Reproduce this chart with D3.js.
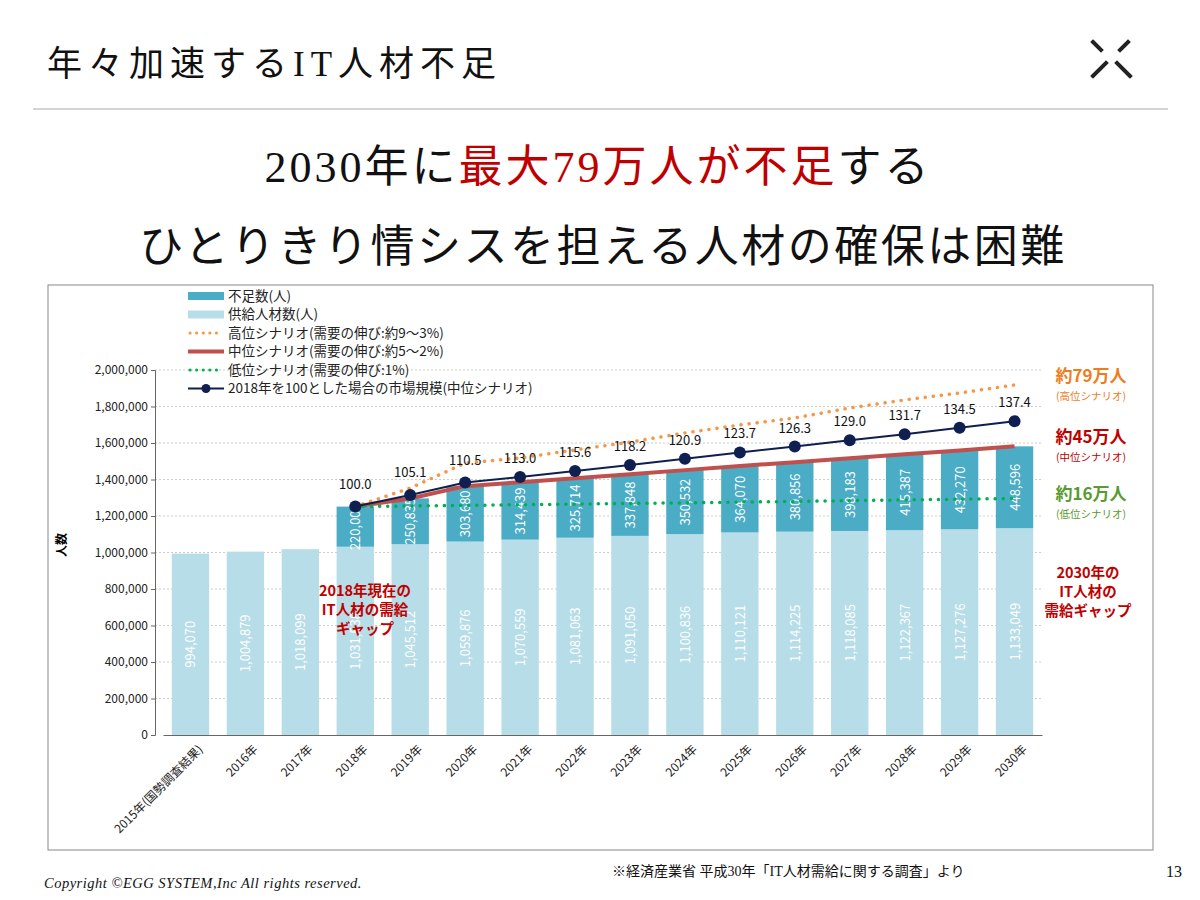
<!DOCTYPE html>
<html><head><meta charset="utf-8">
<script src="https://cdn.jsdelivr.net/npm/d3@7"></script>
<style>
body{margin:0;background:#fff;}
text{font-family:"Noto Sans CJK JP","Noto Sans",sans-serif;}
.serif{font-family:"Liberation Serif","DejaVu Serif","Noto Sans CJK JP",serif;}
</style></head>
<body><svg id="c" width="1200" height="900"></svg>
<script>
// DATA
const years = ["2015年(国勢調査結果)","2016年","2017年","2018年","2019年","2020年","2021年","2022年","2023年","2024年","2025年","2026年","2027年","2028年","2029年","2030年"];
const supply = [994070,1004879,1018099,1031538,1045512,1059876,1070559,1081063,1091050,1100836,1110121,1114225,1118085,1122367,1127276,1133049];
const shortage = [null,null,null,220000,250835,303680,314439,325714,337848,350532,364070,380856,398183,415387,432270,448596];
const highDemand = [null,null,null,1251538,1353000,1490000,1518000,1562000,1605000,1655000,1699000,1737000,1792000,1836000,1874000,1918000];
const lowDemand = [null,null,null,1251538,1255000,1258000,1262000,1265000,1269000,1272000,1276000,1280000,1284000,1288000,1292000,1296000];
const marketIndex = [null,null,null,100.0,105.1,110.5,113.0,115.6,118.2,120.9,123.7,126.3,129.0,131.7,134.5,137.4];
const yTicks = [0,200000,400000,600000,800000,1000000,1200000,1400000,1600000,1800000,2000000];

const svg = d3.select("#c");

// HEADER
svg.append("text").attr("class","serif").attr("x",47).attr("y",76).attr("font-size",35).attr("letter-spacing",6).attr("fill","#111").text("年々加速するIT人材不足");
svg.append("line").attr("x1",33).attr("x2",1168).attr("y1",109).attr("y2",109).attr("stroke","#aaa").attr("stroke-width",1);
// logo
const logo = svg.append("g").attr("stroke","#222").attr("stroke-width",4).attr("stroke-linecap","square");
logo.append("line").attr("x1",1093).attr("y1",42).attr("x2",1101).attr("y2",50);
logo.append("line").attr("x1",1128).attr("y1",42).attr("x2",1120).attr("y2",50);
logo.append("line").attr("x1",1093).attr("y1",76).attr("x2",1106).attr("y2",63);
logo.append("line").attr("x1",1130).attr("y1",76).attr("x2",1117).attr("y2",63);

const t1 = svg.append("text").attr("class","serif").attr("x",598).attr("y",182).attr("text-anchor","middle").attr("font-size",44).attr("letter-spacing",3).attr("fill","#111");
t1.append("tspan").text("2030年に");
t1.append("tspan").attr("fill","#c00000").text("最大79万人が不足");
t1.append("tspan").text("する");
svg.append("text").attr("class","serif").attr("x",603).attr("y",262).attr("text-anchor","middle").attr("font-size",44).attr("letter-spacing",2.5).attr("fill","#111").text("ひとりきり情シスを担える人材の確保は困難");

// chart frame
svg.append("rect").attr("x",48).attr("y",285).attr("width",1105).attr("height",565).attr("fill","none").attr("stroke","#888");

const x = d3.scaleBand().domain(years).range([163,1042]).paddingInner(0.32).paddingOuter(0.16);
const y = d3.scaleLinear().domain([0,2000000]).range([735,370]);
const cx = d => x(d) + x.bandwidth()/2;

// gridlines
svg.append("g").selectAll("line").data(yTicks.slice(1)).join("line")
  .attr("x1",155).attr("x2",1042).attr("y1",d=>y(d)).attr("y2",d=>y(d))
  .attr("stroke","#ccc").attr("stroke-dasharray","2,2");

// axes
const ya = svg.append("g").attr("transform","translate(155,0)")
  .call(d3.axisLeft(y).tickValues(yTicks).tickFormat(d3.format(",")).tickSize(4));
ya.selectAll("text").attr("font-size",12).attr("fill","#222");
ya.selectAll("path,line").attr("stroke","#666");
const xa = svg.append("g").attr("transform","translate(0,735)")
  .call(d3.axisBottom(x).tickSize(0));
xa.select("path").attr("stroke","#666");
xa.selectAll("text").attr("font-size",12).attr("fill","#222")
  .attr("text-anchor","end").attr("transform","translate(8,10) rotate(-45)").attr("dy","0.35em");
svg.append("text").attr("transform","translate(66,545) rotate(-90)").attr("font-size",12).attr("font-weight","bold").attr("text-anchor","middle").text("人数");

// bars
svg.append("g").selectAll("rect").data(years).join("rect")
  .attr("x",d=>x(d)).attr("width",x.bandwidth())
  .attr("y",(d,i)=>y(supply[i])).attr("height",(d,i)=>735-y(supply[i])).attr("fill","#b7dde8");
const sIdx = years.map((d,i)=>i).filter(i=>shortage[i]!=null);
svg.append("g").selectAll("rect").data(sIdx).join("rect")
  .attr("x",i=>x(years[i])).attr("width",x.bandwidth())
  .attr("y",i=>y(supply[i]+shortage[i])).attr("height",i=>y(supply[i])-y(supply[i]+shortage[i])).attr("fill","#4bacc6");

// bar labels (rotated)
svg.append("g").selectAll("text").data(years).join("text")
  .attr("transform",(d,i)=>`translate(${cx(d)+5},${(y(supply[i])+735)/2}) rotate(-90)`)
  .attr("text-anchor","middle").attr("font-size",13).attr("fill","#fff")
  .text((d,i)=>d3.format(",")(supply[i]));
svg.append("g").selectAll("text").data(sIdx).join("text")
  .attr("transform",i=>`translate(${cx(years[i])+5},${(y(supply[i])+y(supply[i]+shortage[i]))/2}) rotate(-90)`)
  .attr("text-anchor","middle").attr("font-size",13).attr("fill","#fff")
  .text(i=>d3.format(",")(shortage[i]));

// lines
const ln = arr => d3.line().defined(d=>d.v!=null).x(d=>cx(d.k)).y(d=>y(d.v))(years.map((k,i)=>({k,v:arr[i]})));
const midDemand = years.map((d,i)=>shortage[i]==null?null:supply[i]+shortage[i]);
svg.append("path").attr("d",ln(highDemand)).attr("fill","none").attr("stroke","#f79646").attr("stroke-width",3.5).attr("stroke-dasharray","0.1,8").attr("stroke-linecap","round");
svg.append("path").attr("d",ln(midDemand)).attr("fill","none").attr("stroke","#c0504d").attr("stroke-width",4);
svg.append("path").attr("d",ln(lowDemand)).attr("fill","none").attr("stroke","#00b050").attr("stroke-width",3.5).attr("stroke-dasharray","0.1,8").attr("stroke-linecap","round");
const base = 1251538/100;
const mk = marketIndex.map(v=>v==null?null:v*base);
svg.append("path").attr("d",ln(mk)).attr("fill","none").attr("stroke","#0f1f4f").attr("stroke-width",2);
svg.append("g").selectAll("circle").data(sIdx).join("circle")
  .attr("cx",i=>cx(years[i])).attr("cy",i=>y(mk[i])).attr("r",6).attr("fill","#0f1f4f");
svg.append("g").selectAll("text").data(sIdx).join("text")
  .attr("x",i=>cx(years[i])).attr("y",i=>y(mk[i])-(i<=5?18:14)).attr("text-anchor","middle").attr("font-size",13).attr("fill","#111")
  .text(i=>marketIndex[i].toFixed(1));

// legend
const leg = svg.append("g").attr("transform","translate(188,296)");
const items = [
  {t:"不足数(人)",type:"rect",c:"#4bacc6"},
  {t:"供給人材数(人)",type:"rect",c:"#b7dde8"},
  {t:"高位シナリオ(需要の伸び:約9～3%)",type:"dot",c:"#f79646"},
  {t:"中位シナリオ(需要の伸び:約5～2%)",type:"line",c:"#c0504d"},
  {t:"低位シナリオ(需要の伸び:1%)",type:"dot",c:"#00b050"},
  {t:"2018年を100とした場合の市場規模(中位シナリオ)",type:"mk",c:"#0f1f4f"}];
items.forEach((it,i)=>{
  const g = leg.append("g").attr("transform",`translate(0,${i*18.5})`);
  if(it.type==="rect") g.append("rect").attr("x",0).attr("y",-4).attr("width",36).attr("height",8).attr("fill",it.c);
  if(it.type==="dot") g.append("line").attr("x1",2).attr("x2",34).attr("stroke",it.c).attr("stroke-width",3).attr("stroke-dasharray","0.1,6.5").attr("stroke-linecap","round");
  if(it.type==="line") g.append("line").attr("x1",0).attr("x2",36).attr("stroke",it.c).attr("stroke-width",4);
  if(it.type==="mk"){g.append("line").attr("x1",0).attr("x2",36).attr("stroke",it.c).attr("stroke-width",2);g.append("circle").attr("cx",18).attr("r",4.5).attr("fill",it.c);}
  g.append("text").attr("x",40).attr("y",4.5).attr("font-size",13.5).attr("fill","#222").text(it.t);
});

// side annotations
const side = [{t:"約79万人",s:"(高位シナリオ)",c:"#f07c1c",y:382},{t:"約45万人",s:"(中位シナリオ)",c:"#c00000",y:443},{t:"約16万人",s:"(低位シナリオ)",c:"#5a9a2f",y:500}];
side.forEach(d=>{
  svg.append("text").attr("x",1091).attr("y",d.y).attr("text-anchor","middle").attr("font-size",17).attr("font-weight","bold").attr("fill",d.c).text(d.t);
  svg.append("text").attr("x",1091).attr("y",d.y+18).attr("text-anchor","middle").attr("font-size",10.5).attr("fill",d.c).text(d.s);
});
["2030年の","IT人材の","需給ギャップ"].forEach((t,i)=>svg.append("text").attr("x",1088).attr("y",578+i*19).attr("text-anchor","middle").attr("font-size",14.5).attr("font-weight","bold").attr("fill","#c00000").text(t));
["2018年現在の","IT人材の需給","ギャップ"].forEach((t,i)=>svg.append("text").attr("x",365).attr("y",596+i*19).attr("text-anchor","middle").attr("font-size",14.5).attr("font-weight","bold").attr("fill","#c00000").text(t));

// footer
svg.append("text").attr("class","serif").attr("x",612).attr("y",876).attr("font-size",14).attr("fill","#111").text("※経済産業省 平成30年「IT人材需給に関する調査」より");
svg.append("text").attr("class","serif").attr("x",1166).attr("y",877).attr("font-size",16).attr("fill","#111").text("13");
svg.append("text").attr("class","serif").attr("x",44).attr("y",888).attr("font-size",14.5).attr("letter-spacing",0.5).attr("font-style","italic").attr("fill","#111").text("Copyright ©EGG SYSTEM,Inc All rights reserved.");
</script></body></html>
